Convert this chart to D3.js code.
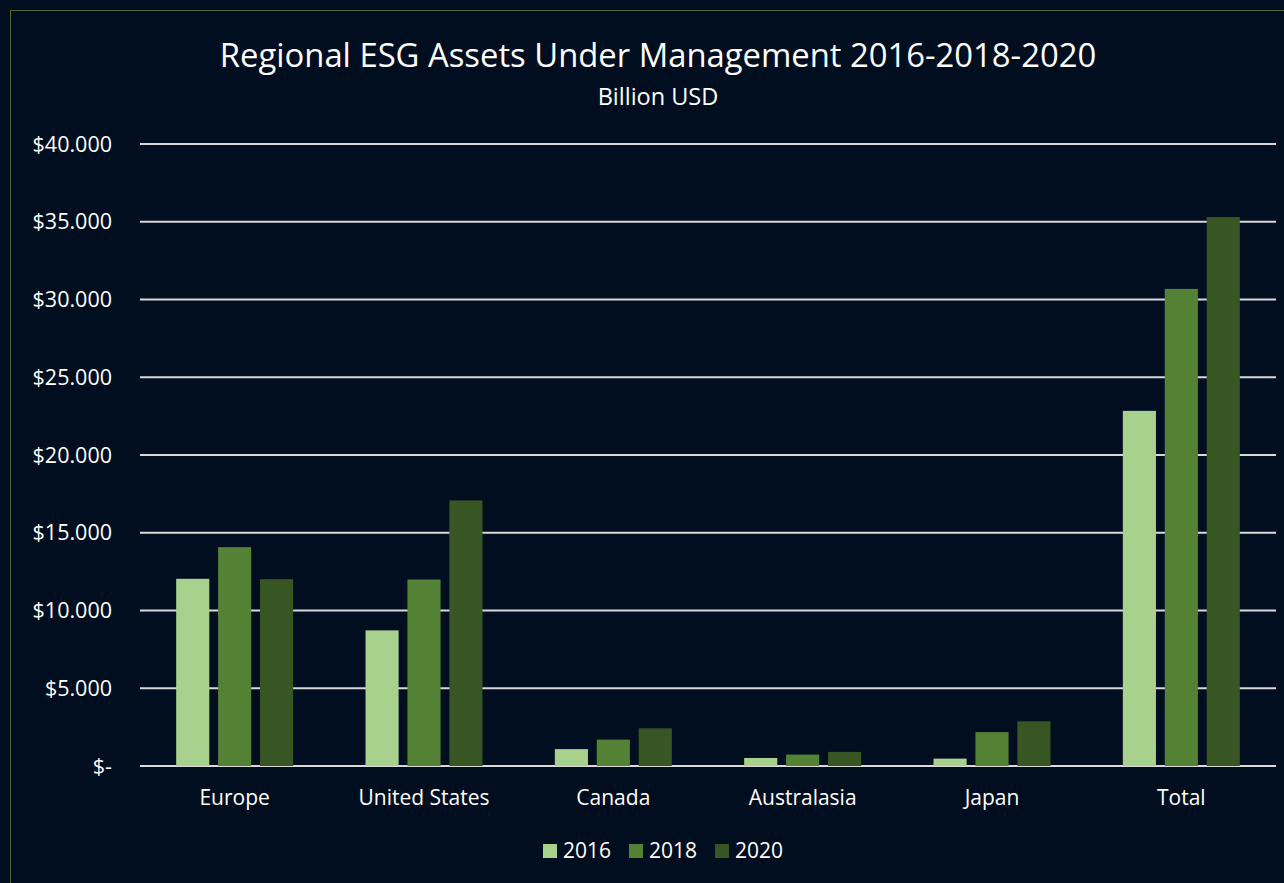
<!DOCTYPE html>
<html>
<head>
<meta charset="utf-8">
<script src="https://cdn.jsdelivr.net/npm/d3@7"></script>
<style>
  html, body { margin: 0; padding: 0; background: #000e1f; }
  svg { display: block; font-family: "Open Sans", sans-serif; }
</style>
</head>
<body>
<div id="chart"></div>
<script>
const categories = ['Europe', 'United States', 'Canada', 'Australasia', 'Japan', 'Total'];
const years = ['2016', '2018', '2020'];
const values2016 = [12040, 8723, 1086, 516, 474, 22839];
const values2018 = [14075, 11995, 1699, 734, 2180, 30683];
const values2020 = [12017, 17081, 2423, 906, 2874, 35301];
const yTicks = [0, 5000, 10000, 15000, 20000, 25000, 30000, 35000, 40000];
const colors = ['#a9d18e', '#548235', '#375623'];

const W = 1284, H = 883;
const margin = { left: 140, right: 8, top: 144, bottom: 117 };

const svg = d3.select('#chart').append('svg')
    .attr('width', W)
    .attr('height', H);

svg.append('rect')
    .attr('width', W).attr('height', H)
    .attr('fill', '#000e1f');

// outer frame
svg.append('rect')
    .attr('x', 10.5).attr('y', 10.5)
    .attr('width', W).attr('height', H)
    .attr('fill', 'none')
    .attr('stroke', '#4c6b2a')
    .attr('stroke-width', 1);

const x = d3.scaleBand()
    .domain(categories)
    .range([margin.left, W - margin.right]);

const xInner = d3.scaleBand()
    .domain(years)
    .range([0, 117])
    .paddingInner(0.21);

const y = d3.scaleLinear()
    .domain([0, 40000])
    .range([H - margin.bottom, margin.top]);

const fmt = v => v === 0 ? '$-' : '$' + d3.format(',')(v).replace(/,/g, '.');

// grid
svg.append('g')
    .selectAll('line')
    .data(yTicks)
    .join('line')
    .attr('x1', margin.left)
    .attr('x2', W - margin.right)
    .attr('y1', d => y(d))
    .attr('y2', d => y(d))
    .attr('stroke', '#d9d9d9')
    .attr('stroke-width', 2);

// y labels
svg.append('g')
    .selectAll('text')
    .data(yTicks)
    .join('text')
    .attr('x', 112)
    .attr('y', d => y(d))
    .attr('dy', '0.35em')
    .attr('text-anchor', 'end')
    .attr('fill', '#ffffff')
    .attr('font-size', 21.5)
    .text(fmt);

const series = [values2016, values2018, values2020];

const groups = svg.append('g')
    .selectAll('g')
    .data(categories)
    .join('g')
    .attr('transform', d => `translate(${x(d) + (x.bandwidth() - 117) / 2},0)`);

groups.selectAll('rect')
    .data((d, i) => years.map((yr, j) => ({ yr, j, v: series[j][i] })))
    .join('rect')
    .attr('x', d => xInner(d.yr))
    .attr('width', xInner.bandwidth())
    .attr('y', d => y(d.v))
    .attr('height', d => y(0) - y(d.v))
    .attr('fill', d => colors[d.j]);

// x labels
svg.append('g')
    .selectAll('text')
    .data(categories)
    .join('text')
    .attr('x', d => x(d) + x.bandwidth() / 2)
    .attr('y', 805)
    .attr('text-anchor', 'middle')
    .attr('fill', '#ffffff')
    .attr('font-size', 21)
    .text(d => d);

// title
svg.append('text')
    .attr('x', 658).attr('y', 67)
    .attr('text-anchor', 'middle')
    .attr('fill', '#ffffff')
    .attr('font-size', 32.8)
    .text('Regional ESG Assets Under Management 2016-2018-2020');

svg.append('text')
    .attr('x', 658).attr('y', 105)
    .attr('text-anchor', 'middle')
    .attr('fill', '#ffffff')
    .attr('font-size', 23.5)
    .text('Billion USD');

// legend
const legend = svg.append('g')
    .selectAll('g')
    .data(years)
    .join('g')
    .attr('transform', (d, i) => `translate(${543 + i * 86},844)`);

legend.append('rect')
    .attr('width', 14).attr('height', 14)
    .attr('fill', (d, i) => colors[i]);

legend.append('text')
    .attr('x', 20).attr('y', 7)
    .attr('dy', '0.35em')
    .attr('fill', '#ffffff')
    .attr('font-size', 21)
    .text(d => d);
</script>
</body>
</html>
